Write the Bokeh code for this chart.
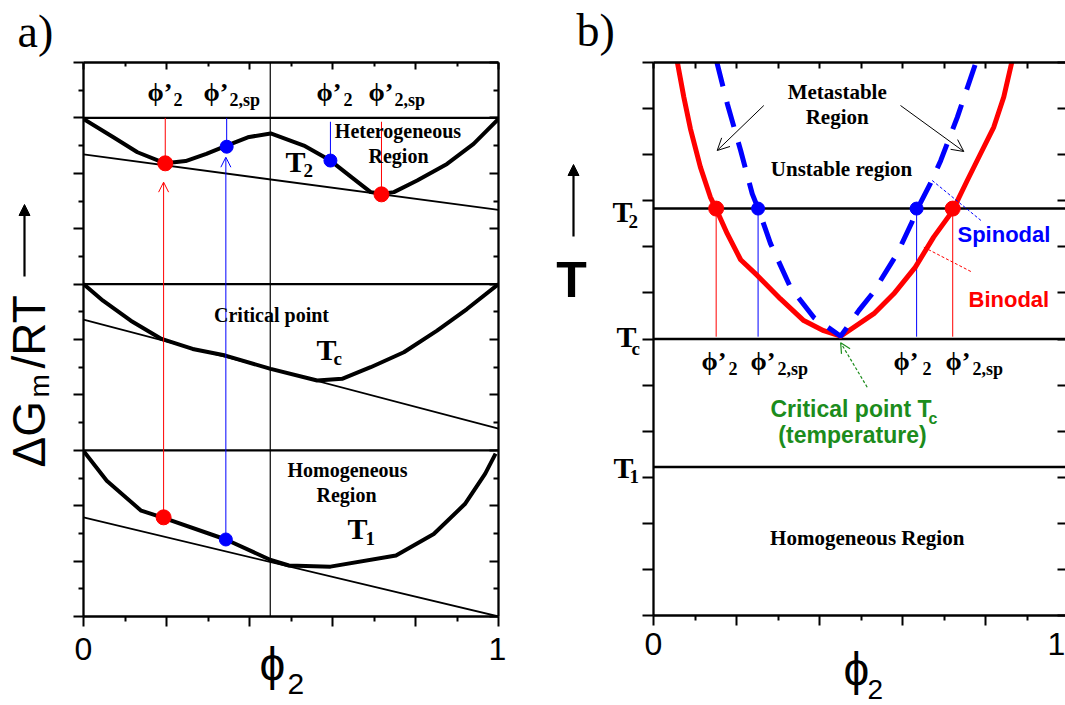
from bokeh.plotting import figure
from bokeh.models import (FixedTicker, Label, Arrow, OpenHead, NormalHead, LinearAxis,
                          Range1d, CustomJSTickFormatter, GridBox)
from bokeh.embed import file_html
from bokeh.resources import INLINE

SERIF = "Liberation Serif"
SANS = "Liberation Sans"
RED = "#ff0000"
BLUE = "#0000ff"
GREEN = "#1c8c1c"

# ---------------- Panel a: free energy of mixing vs composition ----------------
a_T2_phi = [0.0, 0.072, 0.13, 0.197, 0.246, 0.296, 0.342, 0.396, 0.451, 0.531, 0.595,
            0.651, 0.692, 0.72, 0.748, 0.804, 0.876, 0.94, 1.0]
a_T2_G = [8.98, 8.65, 8.38, 8.18, 8.22, 8.35, 8.49, 8.65, 8.72, 8.50, 8.23,
          7.90, 7.66, 7.63, 7.66, 7.87, 8.17, 8.53, 8.98]
a_Tc_phi = [0.0, 0.047, 0.114, 0.188, 0.263, 0.342, 0.451, 0.563, 0.623, 0.692, 0.772,
            0.852, 0.924, 1.0]
a_Tc_G = [6.0, 5.70, 5.34, 5.01, 4.83, 4.71, 4.47, 4.26, 4.29, 4.50, 4.77, 5.16, 5.55, 6.0]
a_T1_phi = [0.0, 0.056, 0.139, 0.193, 0.343, 0.451, 0.495, 0.595, 0.753, 0.844, 0.919,
            0.968, 0.993]
a_T1_G = [2.99, 2.45, 1.91, 1.78, 1.39, 1.02, 0.92, 0.90, 1.10, 1.49, 2.03, 2.58, 2.94]

a_tangent_phi = [0.0, 1.0]
a_T2_tangent = [8.34, 7.34]
a_Tc_tangent = [5.36, 3.39]
a_T1_tangent = [1.79, 0.0]

a_levels = [9.0, 6.0, 3.0]
a_mid_phi = [0.45]

# binodal / spinodal points on the T2 curve
a_T2_bin_phi = [0.197, 0.718]
a_T2_bin_G = [8.18, 7.62]
a_T2_bin_top = [9.0, 8.93]
a_T2_sp_phi = [0.345, 0.595]
a_T2_sp_G = [8.48, 8.23]
a_T2_sp_top = [9.0, 8.93]
# the same compositions on the T1 curve
a_T1_bin_phi = [0.193]
a_T1_bin_G = [1.79]
a_T1_bin_tip = [7.84]
a_T1_sp_phi = [0.343]
a_T1_sp_G = [1.39]
a_T1_sp_tip = [8.29]

a_x_ticks = [0.0, 0.2, 0.4, 0.6, 0.8, 1.0]
a_x_minor = [0.1, 0.3, 0.5, 0.7, 0.9]
a_y_ticks = list(range(0, 11))
a_y_minor = [0.5, 1.5, 2.5, 3.5, 4.5, 5.5, 6.5, 7.5, 8.5, 9.5]

# ---------------- Panel b: phase diagram ----------------
b_bin_phi = [0.057, 0.073, 0.089, 0.113, 0.137, 0.152, 0.178, 0.210, 0.250, 0.306, 0.362,
             0.410, 0.451, 0.531, 0.579, 0.631, 0.675, 0.720, 0.756, 0.788, 0.820, 0.844, 0.864]
b_bin_T = [12.03, 11.25, 10.56, 9.73, 9.08, 8.80, 8.28, 7.72, 7.38, 6.87, 6.40,
           6.18, 6.06, 6.55, 6.98, 7.56, 8.21, 8.77, 9.44, 10.02, 10.60, 11.25, 12.03]
b_sp_phi = [0.152, 0.178, 0.210, 0.238, 0.254, 0.282, 0.330, 0.386, 0.451, 0.495, 0.527,
            0.587, 0.623, 0.634, 0.667, 0.692, 0.732, 0.778]
b_sp_T = [12.03, 11.1, 10.09, 9.15, 8.79, 8.07, 7.12, 6.47, 6.06, 6.62, 6.98,
          7.85, 8.54, 8.79, 9.37, 9.87, 10.81, 12.03]
b_T2 = 8.83
b_Tc = 6.0
b_T1 = 3.22
b_T2_bin_phi = [0.151, 0.721]
b_T2_sp_phi = [0.252, 0.634]
b_crit_phi = 0.451

b_x_ticks = [0.0, 0.2, 0.4, 0.6, 0.8, 1.0]
b_x_minor = [0.1, 0.3, 0.5, 0.7, 0.9]
b_x_top = [0.0, 0.1, 0.2, 0.3, 0.4, 0.5, 0.6, 0.7, 0.8, 0.9, 1.0]
b_y_ticks = list(range(0, 13))

# ---------------- helpers ----------------
EMPTY = CustomJSTickFormatter(code="return ''")
BASELINE_SHIFT = 0.37   # correction for where the renderer puts the alphabetic baseline


def no_align(p):
    if "frame_align" in p.properties():
        p.frame_align = False


def make_fig(width, x_end, y_end, bl, br, bt, bb):
    p = figure(width=width, height=705, x_range=Range1d(0, x_end), y_range=Range1d(0, y_end),
               output_backend="svg", toolbar_location=None,
               x_axis_location=None, y_axis_location=None,
               min_border_left=bl, min_border_right=br, min_border_top=bt, min_border_bottom=bb)
    p.outline_line_color = None
    p.background_fill_color = "white"
    p.border_fill_color = "white"
    p.xgrid.visible = False
    p.ygrid.visible = False
    no_align(p)
    return p


def add_axis(p, side, ticks, minor, maj_in, maj_out, min_in=0, min_out=0, line=True):
    ax = LinearAxis(ticker=FixedTicker(ticks=ticks, minor_ticks=minor), formatter=EMPTY)
    ax.major_label_standoff = 0
    ax.major_label_text_font_size = "1px"
    ax.major_tick_in = maj_in
    ax.major_tick_out = maj_out
    ax.minor_tick_in = min_in
    ax.minor_tick_out = min_out
    ax.axis_line_width = 2.3
    ax.major_tick_line_width = 2
    ax.minor_tick_line_width = 2
    ax.major_tick_line_color = "black"
    ax.minor_tick_line_color = "black"
    ax.axis_line_color = "black" if line else None
    p.add_layout(ax, side)


def make_label(p, fx, fy):
    def lab(px, py, text, size, font=SERIF, style="bold", color="black", align="left",
            angle=0):
        off = BASELINE_SHIFT * size
        if angle == 90:
            px = px - off
        else:
            py = py - off
        p.add_layout(Label(x=fx(px), y=fy(py), text=text, text_font=font,
                           text_font_size=f"{size}px", text_font_style=style, text_color=color,
                           text_align=align, text_baseline="alphabetic", angle=angle,
                           angle_units="deg"))
    return lab


# ================= Panel a =================
pa = make_fig(545, 1.0, 10.0, 83, 47, 62, 89)
AX = lambda px: (px - 83) / 415.0
AY = lambda py: (616 - py) / 55.4
la = make_label(pa, AX, AY)

add_axis(pa, "left", a_y_ticks, a_y_minor, 0, 10, 0, 5)
add_axis(pa, "right", a_y_ticks, a_y_minor, 9, 0, 5, 0)
add_axis(pa, "above", a_x_ticks, a_x_minor, 7, 0, 4, 0)
add_axis(pa, "below", a_x_ticks, a_x_minor, 0, 10, 0, 5)

pa.segment(x0=[0.0] * len(a_levels), x1=[1.0] * len(a_levels), y0=a_levels, y1=a_levels,
           line_color="black", line_width=2.2)
pa.segment(x0=a_mid_phi, x1=a_mid_phi, y0=[0.0], y1=[10.0], line_color="black", line_width=1.2)

for tang in (a_T2_tangent, a_Tc_tangent, a_T1_tangent):
    pa.line(a_tangent_phi, tang, line_color="black", line_width=1.8)
for xs, ys in ((a_T2_phi, a_T2_G), (a_Tc_phi, a_Tc_G), (a_T1_phi, a_T1_G)):
    pa.line(xs, ys, line_color="black", line_width=4, line_join="round")

pa.segment(x0=a_T2_bin_phi, x1=a_T2_bin_phi, y0=a_T2_bin_G, y1=a_T2_bin_top,
           line_color=RED, line_width=1)
pa.segment(x0=a_T2_sp_phi, x1=a_T2_sp_phi, y0=a_T2_sp_G, y1=a_T2_sp_top,
           line_color=BLUE, line_width=1)
pa.add_layout(Arrow(x_start=a_T1_bin_phi[0], y_start=a_T1_bin_G[0], x_end=a_T1_bin_phi[0],
                    y_end=a_T1_bin_tip[0], line_color=RED, line_width=1,
                    end=OpenHead(size=10, line_color=RED, line_width=1)))
pa.add_layout(Arrow(x_start=a_T1_sp_phi[0], y_start=a_T1_sp_G[0], x_end=a_T1_sp_phi[0],
                    y_end=a_T1_sp_tip[0], line_color=BLUE, line_width=1,
                    end=OpenHead(size=10, line_color=BLUE, line_width=1)))

pa.scatter(a_T2_bin_phi, a_T2_bin_G, size=15, color=RED)
pa.scatter(a_T2_sp_phi, a_T2_sp_G, size=13, color=BLUE)
pa.scatter(a_T1_bin_phi, a_T1_bin_G, size=15, color=RED)
pa.scatter(a_T1_sp_phi, a_T1_sp_G, size=13, color=BLUE)

for main_x, sub_x, sub in ((147, 173, "2"), (203, 229, "2,sp"), (316, 343, "2"), (368, 394, "2,sp")):
    la(main_x, 102, "ϕ’", 26)
    la(sub_x, 106, sub, 18)
la(397.5, 138, "Heterogeneous", 20, align="center")
la(398, 163, "Region", 20, align="center")
la(285, 172, "T", 30)
la(303, 177, "2", 19)
la(271, 322, "Critical point", 20, align="center")
la(316, 360, "T", 30)
la(333, 365, "c", 19)
la(347, 477, "Homogeneous", 20, align="center")
la(346, 502, "Region", 20, align="center")
la(347, 539, "T", 30)
la(365, 545, "1", 19)

# ================= Panel b =================
B_FRAME_W = 412
pb = make_fig(520, B_FRAME_W / 415.0, 12.0, 108, 0, 62, 90)
BX = lambda px: (px - 653) / 415.0
BY = lambda py: (615 - py) / (553 / 12.0)
lb = make_label(pb, BX, BY)

add_axis(pb, "left", b_y_ticks, [], 0, 11)
add_axis(pb, "right", b_y_ticks, [], 8, 0, line=False)
add_axis(pb, "above", b_x_top, [], 6, 0)
add_axis(pb, "below", b_x_ticks, b_x_minor, 0, 10, 0, 5)

levels_b = [b_T2, b_Tc, b_T1]
pb.segment(x0=[0.0] * 3, x1=[1.0] * 3, y0=levels_b, y1=levels_b, line_color="black", line_width=2.5)

pb.segment(x0=b_T2_bin_phi, x1=b_T2_bin_phi, y0=[b_T2] * 2, y1=[b_Tc + 0.05] * 2,
           line_color=RED, line_width=1)
pb.segment(x0=b_T2_sp_phi, x1=b_T2_sp_phi, y0=[b_T2] * 2, y1=[b_Tc + 0.05] * 2,
           line_color=BLUE, line_width=1)

pb.line(b_bin_phi, b_bin_T, line_color=RED, line_width=5, line_join="round")
pb.line(b_sp_phi, b_sp_T, line_color=BLUE, line_width=5, line_dash="26 16")

pb.scatter(b_T2_bin_phi, [b_T2] * 2, size=15, color=RED)
pb.scatter(b_T2_sp_phi, [b_T2] * 2, size=13, color=BLUE)

pb.segment(x0=[BX(931.7)], y0=[BY(180)], x1=[BX(981.7)], y1=[BY(221)],
           line_color=BLUE, line_width=1, line_dash="3 2")
pb.segment(x0=[BX(923.3)], y0=[BY(246.7)], x1=[BX(971.7)], y1=[BY(271.7)],
           line_color=RED, line_width=1, line_dash="3 2")

pb.add_layout(Arrow(x_start=BX(763.3), y_start=BY(105), x_end=BX(716.7), y_end=BY(150),
                    line_color="black", line_width=1,
                    end=OpenHead(size=12, line_color="black", line_width=1)))
pb.add_layout(Arrow(x_start=BX(900), y_start=BY(105), x_end=BX(963.3), y_end=BY(151),
                    line_color="black", line_width=1,
                    end=OpenHead(size=12, line_color="black", line_width=1)))
pb.add_layout(Arrow(x_start=BX(866.7), y_start=BY(386.7), x_end=b_crit_phi, y_end=b_Tc - 0.08,
                    line_color=GREEN, line_width=1.2, line_dash="3 2",
                    end=OpenHead(size=10, line_color=GREEN, line_width=1.2)))

lb(836.7, 99, "Metastable", 21, align="center")
lb(836.7, 124, "Region", 21, align="center")
lb(841, 176, "Unstable region", 21, align="center")
lb(957, 242, "Spinodal", 22, font=SANS, color=BLUE)
lb(968, 307, "Binodal", 22, font=SANS, color=RED)
for main_x, sub_x, sub in ((701, 728, "2"), (750, 777, "2,sp"), (893, 922, "2"), (945, 972, "2,sp")):
    lb(main_x, 371, "ϕ’", 26)
    lb(sub_x, 375, sub, 18)
lb(770, 417, "Critical point T", 23, font=SANS, color=GREEN)
lb(928, 424, "c", 16, font=SANS, color=GREEN)
lb(852, 443, "(temperature)", 23, font=SANS, color=GREEN, align="center")
lb(866.7, 545, "Homogeneous Region", 21, align="center")

# ================= Overlay for texts outside the plot frames (window pixels) =================
ov = figure(width=1065, height=705, x_range=Range1d(0, 1065), y_range=Range1d(705, 0),
            output_backend="svg", toolbar_location=None,
            x_axis_location=None, y_axis_location=None,
            min_border_left=0, min_border_right=0, min_border_top=0, min_border_bottom=0)
ov.outline_line_color = None
ov.background_fill_color = None
ov.border_fill_color = None
ov.xgrid.visible = False
ov.ygrid.visible = False
no_align(ov)
lo = make_label(ov, lambda v: v, lambda v: v)

lo(17, 48, "a)", 46, style="normal")
lo(576, 47, "b)", 46, style="normal")
# panel a axis texts
lo(83, 660, "0", 32, font=SANS, style="normal", align="center")
lo(497, 660, "1", 32, font=SANS, style="normal", align="center")
lo(259, 681, "ϕ", 46, font=SANS, style="normal")
lo(287, 695, "2", 30, font=SANS, style="normal")
lo(46, 467, "ΔG", 46, font=SANS, style="normal", angle=90)
lo(49, 397, "m", 28, font=SANS, style="normal", angle=90)
lo(46, 368, "/RT", 46, font=SANS, style="normal", angle=90)
ov.add_layout(Arrow(x_start=24, y_start=276, x_end=24, y_end=204,
                    line_color="black", line_width=2.2,
                    end=NormalHead(size=11, fill_color="black", line_color="black")))
# panel b axis texts
lo(612, 222, "T", 30)
lo(628, 228, "2", 19)
lo(616, 347, "T", 30)
lo(631, 355, "c", 19)
lo(613, 478, "T", 30)
lo(629, 483, "1", 19)
lo(571, 298, "T", 50, font=SANS, align="center")
ov.add_layout(Arrow(x_start=573, y_start=236, x_end=573, y_end=164,
                    line_color="black", line_width=2.2,
                    end=NormalHead(size=11, fill_color="black", line_color="black")))
lo(653, 655, "0", 32, font=SANS, style="normal", align="center")
lo(1056, 655, "1", 32, font=SANS, style="normal", align="center")
lo(843, 686, "ϕ", 46, font=SANS, style="normal")
lo(867, 699, "2", 28, font=SANS, style="normal")

layout = GridBox(children=[(pa, 0, 0), (pb, 0, 1), (ov, 0, 0, 1, 2)])
open("out.html", "w").write(file_html(layout, INLINE))
